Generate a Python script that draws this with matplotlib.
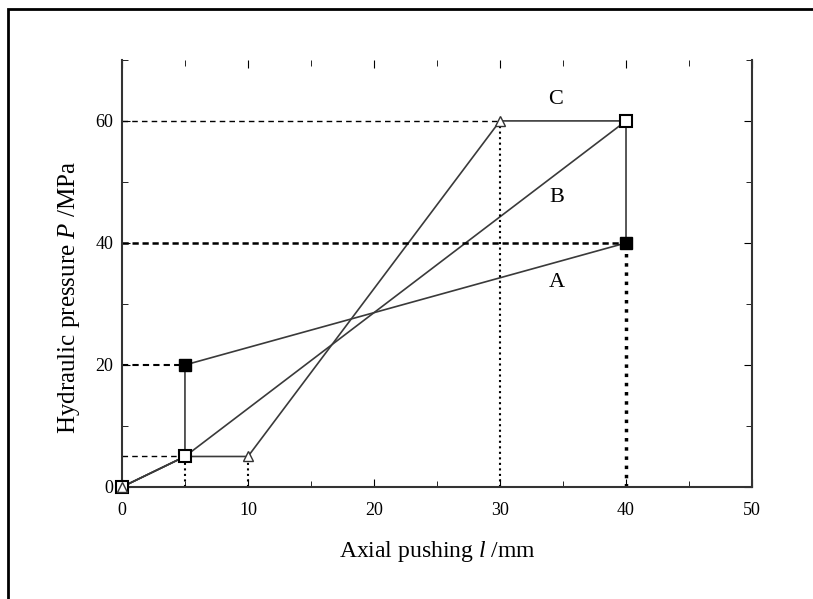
import matplotlib
matplotlib.use("Agg")
import matplotlib.pyplot as plt
from matplotlib.patches import Rectangle
from matplotlib.ticker import MultipleLocator

plt.rcParams["font.family"] = ["Liberation Serif", "DejaVu Serif"]
plt.rcParams["mathtext.fontset"] = "custom"
plt.rcParams["mathtext.rm"] = "Liberation Serif"
plt.rcParams["mathtext.it"] = "Liberation Serif:italic"

# paths of the three loading curves (axial pushing mm, pressure MPa)
a_x = [0, 5, 5, 40, 40]
a_y = [0, 5, 20, 40, 60]
b_x = [0, 5, 40]
b_y = [0, 5, 60]
c_x = [0, 5, 10, 30, 40]
c_y = [0, 5, 5, 60, 60]

# markers
open_sq_x = [0, 5, 40]
open_sq_y = [0, 5, 60]
tri_x = [0, 10, 30]
tri_y = [0, 5, 60]
filled_sq_x = [5, 40]
filled_sq_y = [20, 40]

labels = ["A", "B", "C"]
label_x = [34.5, 34.5, 34.4]
label_y = [33.5, 47.5, 63.5]

fig = plt.figure(figsize=(8.13, 5.99), dpi=100)
ax = fig.add_axes([0.150, 0.187, 0.775, 0.713])

line_col = "#3a3a3a"
ax.plot(a_x, a_y, "-", color=line_col, lw=1.2)
ax.plot(b_x, b_y, "-", color=line_col, lw=1.2)
ax.plot(c_x, c_y, "-", color=line_col, lw=1.2)

# reference dashed guide lines
ax.plot([0, 30], [60, 60], "--", color="black", lw=1.0, dashes=(4, 3))
ax.plot([0, 40], [40, 40], "--", color="black", lw=1.8, dashes=(2.5, 1.5))
ax.plot([0, 5], [20, 20], "--", color="black", lw=1.5, dashes=(3, 2))
ax.plot([0, 5], [5, 5], "--", color="black", lw=1.0, dashes=(4, 3))
ax.plot([30, 30], [0, 60], ":", color="black", lw=1.5)
ax.plot([40, 40], [0, 40], ":", color="black", lw=2.5)
ax.plot([5, 5], [0, 5], ":", color="black", lw=1.5)
ax.plot([10, 10], [0, 5], ":", color="black", lw=1.5)

ax.plot(open_sq_x, open_sq_y, "s", mfc="white", mec="black", mew=1.5, ms=8,
        zorder=5, clip_on=False)
ax.plot(tri_x, tri_y, "^", mfc="white", mec="#333333", mew=1.0, ms=7,
        zorder=6, clip_on=False)
ax.plot(filled_sq_x, filled_sq_y, "s", color="black", ms=8, zorder=5)

for t, x, y in zip(labels, label_x, label_y):
    ax.text(x, y, t, fontsize=16, ha="center", va="center")

ax.set_xlim(0, 50)
ax.set_ylim(0, 70)
ax.set_xticks([0, 10, 20, 30, 40, 50])
ax.set_yticks([0, 20, 40, 60])
ax.xaxis.set_minor_locator(MultipleLocator(5))
ax.yaxis.set_minor_locator(MultipleLocator(10))
ax.tick_params(which="both", direction="in", top=True, right=True, labelsize=13)
ax.tick_params(axis="x", pad=11)
ax.tick_params(axis="y", pad=6)
ax.tick_params(which="major", length=6)
ax.tick_params(which="minor", length=4)
ax.spines["top"].set_visible(False)
for s in ["left", "right", "bottom"]:
    ax.spines[s].set_linewidth(1.5)
    ax.spines[s].set_color("#333333")

ax.set_xlabel("Axial pushing $\\mathit{l}$ /mm", fontsize=17, labelpad=14)
ax.set_ylabel("Hydraulic pressure $\\mathit{P}$ /MPa", fontsize=18)
ax.yaxis.set_label_coords(-0.063, 0.443)

fig.patches.append(Rectangle((8 / 813, -0.1), 1.1, 1 - 9 / 599 + 0.1,
                             transform=fig.transFigure, fill=False,
                             edgecolor="black", lw=2))

plt.savefig("out.png", dpi=100)
